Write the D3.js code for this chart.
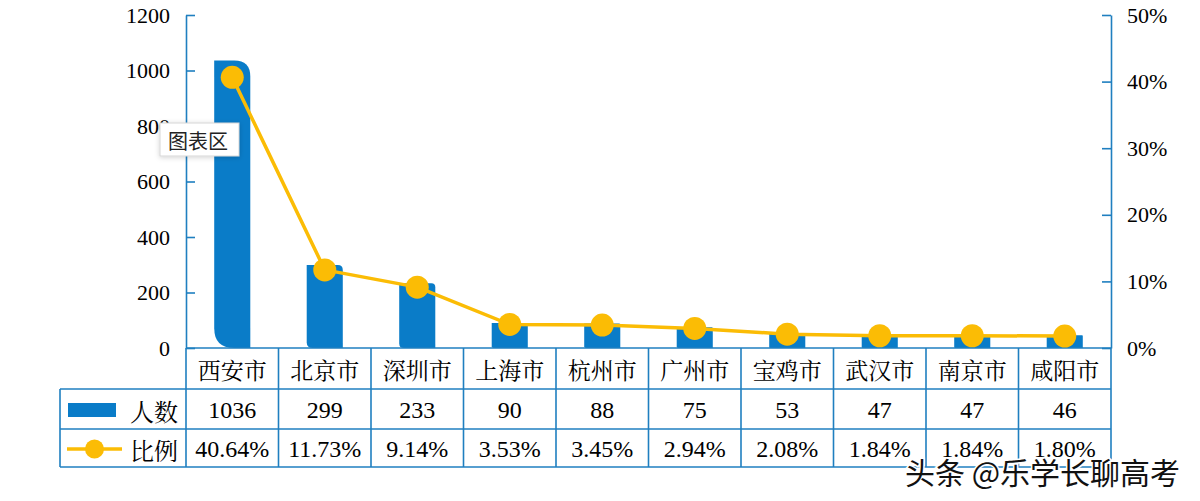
<!DOCTYPE html>
<html>
<head>
<meta charset="utf-8">
<script src="https://cdn.jsdelivr.net/npm/d3@7"></script>
<style>
  html, body { margin: 0; padding: 0; background: #fff; }
  svg { display: block; }
</style>
</head>
<body>
<svg id="chart" width="1200" height="501"></svg>
<script>
// ---- data ----
const categories = ["西安市", "北京市", "深圳市", "上海市", "杭州市", "广州市", "宝鸡市", "武汉市", "南京市", "咸阳市"];
const counts = [1036, 299, 233, 90, 88, 75, 53, 47, 47, 46];
const ratios = [40.64, 11.73, 9.14, 3.53, 3.45, 2.94, 2.08, 1.84, 1.84, 1.80];
const leftTicks = [0, 200, 400, 600, 800, 1000, 1200];
const rightTicks = [0, 10, 20, 30, 40, 50];
const seriesNames = ["人数", "比例"];

// ---- styles ----
const BLUE = "#0a7cc8";
const AXIS = "#1f7fc0";
const YELLOW = "#fbbc05";
const serif = "'Liberation Serif', 'Times New Roman', 'DejaVu Serif', serif";
const cjk = "'Noto Serif CJK SC', 'Noto Sans CJK SC', sans-serif";

const svg = d3.select("#chart");
const plotLeft = 186, plotRight = 1111, plotTop = 15, plotBase = 348;
const rowY = [348, 389, 429, 467];
const tableLeft = 60;

const x = d3.scaleBand().domain(categories).range([plotLeft, plotRight]).padding(0);
const yL = d3.scaleLinear().domain([0, 1200]).range([plotBase, plotTop]);
const yR = d3.scaleLinear().domain([0, 50]).range([plotBase, plotTop]);

// ---- bars ----
const barW = x.bandwidth() * 0.39;
function barPath(d, i) {
  const cx = x(categories[i]) + x.bandwidth() / 2;
  const x0 = cx - barW / 2, x1 = cx + barW / 2;
  const y0 = yL(d), yb = yL(0);
  const h = yb - y0;
  const r1 = Math.min(16, h * 0.06);
  const r2 = Math.min(20, h * 0.07);
  return `M${x0},${y0} L${x1 - r1},${y0} Q${x1},${y0} ${x1},${y0 + r1} L${x1},${yb} L${x0 + r2},${yb} Q${x0},${yb} ${x0},${yb - r2} Z`;
}
svg.append("g").selectAll("path").data(counts).join("path")
  .attr("d", barPath)
  .attr("fill", BLUE);

// ---- axes ----
const axL = svg.append("g").attr("transform", `translate(${plotLeft},0)`)
  .call(d3.axisLeft(yL).tickValues(leftTicks).tickSizeInner(-9).tickSizeOuter(0).tickPadding(16)
    .tickFormat(d3.format("d")));
const axR = svg.append("g").attr("transform", `translate(${plotRight},0)`)
  .call(d3.axisRight(yR).tickValues(rightTicks).tickSizeInner(-9).tickSizeOuter(0).tickPadding(16)
    .tickFormat(d => d + "%"));
[axL, axR].forEach(ax => {
  ax.attr("font-family", serif).attr("font-size", 22);
  ax.select(".domain").attr("stroke", AXIS).attr("stroke-width", 1.6);
  ax.selectAll(".tick line").attr("stroke", AXIS).attr("stroke-width", 1.6);
  ax.selectAll(".tick text").attr("font-family", serif).attr("font-size", 22).attr("fill", "#000");
});

// ---- table grid ----
const grid = svg.append("g").attr("stroke", AXIS).attr("stroke-width", 1.6).attr("fill", "none");
grid.append("line").attr("x1", plotLeft).attr("x2", plotRight).attr("y1", rowY[0]).attr("y2", rowY[0]);
[1, 2, 3].forEach(k => grid.append("line").attr("x1", tableLeft).attr("x2", plotRight).attr("y1", rowY[k]).attr("y2", rowY[k]));
grid.append("line").attr("x1", tableLeft).attr("x2", tableLeft).attr("y1", rowY[1]).attr("y2", rowY[3]);
const bounds = categories.map(c => x(c)).concat([plotRight]);
grid.selectAll(".vb").data(bounds).join("line")
  .attr("x1", d => d).attr("x2", d => d).attr("y1", rowY[0]).attr("y2", rowY[3]);

// category labels
svg.append("g").selectAll("text").data(categories).join("text")
  .attr("x", d => x(d) + x.bandwidth() / 2)
  .attr("y", (rowY[0] + rowY[1]) / 2 + 1)
  .attr("text-anchor", "middle").attr("dominant-baseline", "central")
  .attr("font-family", cjk).attr("font-size", 23).attr("fill", "#000")
  .text(d => d);
// counts row
svg.append("g").selectAll("text").data(counts).join("text")
  .attr("x", (d, i) => x(categories[i]) + x.bandwidth() / 2)
  .attr("y", (rowY[1] + rowY[2]) / 2 + 1)
  .attr("text-anchor", "middle").attr("dominant-baseline", "central")
  .attr("font-family", serif).attr("font-size", 24).attr("fill", "#000")
  .text(d => d);
// ratio row
svg.append("g").selectAll("text").data(ratios).join("text")
  .attr("x", (d, i) => x(categories[i]) + x.bandwidth() / 2)
  .attr("y", (rowY[2] + rowY[3]) / 2 + 1)
  .attr("text-anchor", "middle").attr("dominant-baseline", "central")
  .attr("font-family", serif).attr("font-size", 24).attr("fill", "#000")
  .text(d => d.toFixed(2) + "%");

// legend keys in header column
svg.append("rect").attr("x", 68).attr("y", 403).attr("width", 48).attr("height", 14).attr("fill", BLUE);
svg.append("line").attr("x1", 67).attr("x2", 122).attr("y1", 449).attr("y2", 449)
  .attr("stroke", YELLOW).attr("stroke-width", 3.5);
svg.append("circle").attr("cx", 94.5).attr("cy", 449).attr("r", 9.5).attr("fill", YELLOW);
svg.append("g").selectAll("text").data(seriesNames).join("text")
  .attr("x", 130)
  .attr("y", (d, i) => i === 0 ? (rowY[1] + rowY[2]) / 2 + 1 : (rowY[2] + rowY[3]) / 2 + 1)
  .attr("dominant-baseline", "central")
  .attr("font-family", cjk).attr("font-size", 24).attr("fill", "#000")
  .text(d => d);

// ---- line ----
const line = d3.line()
  .x((d, i) => x(categories[i]) + x.bandwidth() / 2)
  .y(d => yR(d));
svg.append("path").datum(ratios).attr("d", line)
  .attr("fill", "none").attr("stroke", YELLOW).attr("stroke-width", 3.5).attr("stroke-linejoin", "round");
svg.append("g").selectAll("circle").data(ratios).join("circle")
  .attr("cx", (d, i) => x(categories[i]) + x.bandwidth() / 2)
  .attr("cy", d => yR(d))
  .attr("r", 11.5).attr("fill", YELLOW);

// ---- tooltip "图表区" ----
const defs = svg.append("defs");
const f = defs.append("filter").attr("id", "sh").attr("x", "-20%").attr("y", "-30%").attr("width", "140%").attr("height", "160%");
f.append("feDropShadow").attr("dx", 0).attr("dy", 1).attr("stdDeviation", 2.5).attr("flood-color", "#000").attr("flood-opacity", 0.18);
svg.append("rect").attr("x", 160).attr("y", 123).attr("width", 79).attr("height", 33)
  .attr("fill", "#fff").attr("stroke", "#d6d6d6").attr("stroke-width", 1).attr("filter", "url(#sh)");
svg.append("text").attr("x", 168).attr("y", 140).attr("dominant-baseline", "central")
  .attr("font-family", "'Noto Sans CJK SC', sans-serif").attr("font-size", 20).attr("fill", "#222")
  .text("图表区");

// ---- watermark ----
svg.append("text").attr("x", 905).attr("y", 471).attr("dominant-baseline", "central")
  .attr("font-family", "'Noto Sans CJK SC', sans-serif").attr("font-size", 30)
  .attr("fill", "#111").attr("stroke", "#fff").attr("stroke-width", 3).attr("paint-order", "stroke")
  .text("头条 @乐学长聊高考");
</script>
</body>
</html>
